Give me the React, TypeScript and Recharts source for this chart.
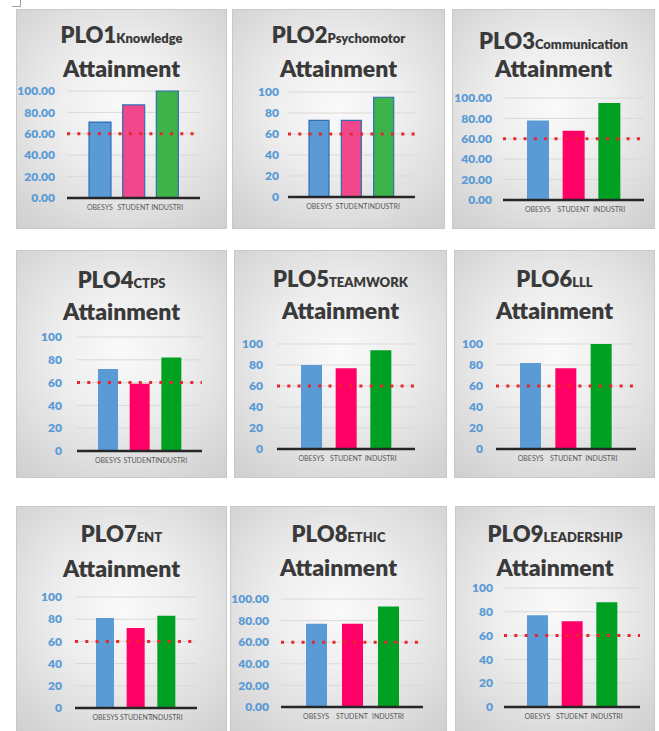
import { BarChart, Bar, XAxis, YAxis, CartesianGrid, ReferenceLine, Cell } from "recharts";

// categories and PLO labels
const categories = ["OBESYS", "STUDENT", "INDUSTRI"];
const ploCodes = ["PLO1", "PLO2", "PLO3", "PLO4", "PLO5", "PLO6", "PLO7", "PLO8", "PLO9"];
const ploDomains = ["Knowledge", "Psychomotor", "Communication", "CTPS", "TEAMWORK", "LLL", "ENT", "ETHIC", "LEADERSHIP"];

// attainment per PLO, one array per respondent group
const obesysScores = [71, 73, 78, 72, 80, 82, 81, 77, 77];
const studentScores = [87, 73, 68, 59, 77, 77, 72, 77, 72];
const industryScores = [100, 95, 95, 82, 94, 100, 83, 93, 88];

const yTicks = [0, 20, 40, 60, 80, 100];
const targetScore = 60;
const tickDecimals = [2, 0, 2, 0, 0, 0, 0, 2, 0];

// page layout of each panel: box [x, y, w, h], plot [left, top, right, bottom], title baselines
type Panel = { box: number[]; plot: number[]; head: number[]; bar: number; gap: number; soft?: boolean };

const panels: Panel[] = [
    { box: [16, 9, 211, 220], plot: [67, 91, 200, 198], head: [43, 77], bar: 22, gap: 12, soft: true },
    { box: [232, 9, 213, 220], plot: [288, 92, 415, 197], head: [43, 77], bar: 20, gap: 9, soft: true },
    { box: [452, 9, 203, 220], plot: [503, 98, 644, 200], head: [49, 77], bar: 22, gap: 11 },
    { box: [16, 250, 211, 228], plot: [77, 337, 202, 451], head: [288, 320], bar: 20, gap: 15 },
    { box: [234, 250, 213, 228], plot: [277, 344, 415, 449], head: [287, 319], bar: 21, gap: 14 },
    { box: [454, 250, 201, 228], plot: [496, 344, 636, 449], head: [287, 319], bar: 21, gap: 13 },
    { box: [16, 506, 211, 230], plot: [75, 597, 197, 708], head: [542, 577], bar: 18, gap: 13 },
    { box: [230, 506, 217, 230], plot: [281, 599, 423, 707], head: [542, 576], bar: 21, gap: 12 },
    { box: [455, 506, 200, 230], plot: [504, 588, 640, 707], head: [542, 576], bar: 21, gap: 11 },
];

const FONT = "Lato, 'Open Sans', sans-serif";

function PloChart({ i }: { i: number }) {
    const p = panels[i];
    const [bx, by, bw, bh] = p.box;
    const [pl, pt, pr, pb] = p.plot;
    const scores = [obesysScores[i], studentScores[i], industryScores[i]];
    const data = categories.map((name, k) => ({ name, value: scores[k] }));
    const colors = p.soft ? ["#5b9bd5", "#f0488b", "#3db34a"] : ["#5b9bd5", "#ff0066", "#00a023"];
    const pad = Math.round((pr - pl) * 0.12);
    const xAxisH = 20;

    return (
        <div
            style={{
                position: "absolute",
                left: bx,
                top: by,
                width: bw,
                height: bh,
                boxSizing: "border-box",
                border: "1px solid #c8c8c8",
                background: "radial-gradient(ellipse 75% 70% at 50% 45%, #fafafa 0%, #eeeeee 40%, #d0d0d0 100%)",
            }}
        >
            <div style={{ position: "absolute", left: -1, top: -1 }}>
                <BarChart
                    width={bw}
                    height={bh}
                    data={data}
                    margin={{ top: pt - by, right: bx + bw - pr, bottom: by + bh - pb - xAxisH, left: 0 }}
                >
                    <CartesianGrid vertical={false} stroke="#d9d9d9" />
                    <XAxis
                        dataKey="name"
                        interval={0}
                        height={xAxisH}
                        padding={{ left: pad, right: pad }}
                        tickLine={false}
                        tickSize={0}
                        tickMargin={7}
                        axisLine={{ stroke: "#262626", strokeWidth: 2.5 }}
                        tick={{ fill: "#595959", fontSize: 7, fontFamily: FONT }}
                    />
                    <YAxis
                        width={pl - bx}
                        domain={[0, 100]}
                        ticks={yTicks}
                        interval={0}
                        tickFormatter={(v: number) => v.toFixed(tickDecimals[i])}
                        axisLine={false}
                        tickLine={false}
                        tickSize={0}
                        tickMargin={p.gap}
                        tick={{ fill: "#5b9bd5", fontSize: 12, fontWeight: 800, fontFamily: FONT }}
                    />
                    <Bar
                        dataKey="value"
                        barSize={p.bar}
                        isAnimationActive={false}
                        stroke={p.soft ? "#2f6eb5" : "none"}
                        strokeWidth={p.soft ? 1.2 : 0}
                    >
                        {data.map((d, k) => (
                            <Cell key={d.name} fill={colors[k]} />
                        ))}
                    </Bar>
                    <ReferenceLine y={targetScore} stroke="#e8262b" strokeWidth={3} strokeDasharray="3 7.3" />
                </BarChart>
            </div>
            <svg width={bw} height={bh} style={{ position: "absolute", left: -1, top: -1, pointerEvents: "none" }}>
                <text x={bw / 2} y={p.head[0] - by} textAnchor="middle" fill="#3a3a3a" fontFamily={FONT} fontWeight={800}>
                    <tspan fontSize={22}>{ploCodes[i]}</tspan>
                    <tspan fontSize={13}>{ploDomains[i]}</tspan>
                </text>
                <text x={bw / 2} y={p.head[1] - by} textAnchor="middle" fill="#3a3a3a" fontFamily={FONT} fontWeight={800} fontSize={23}>
                    Attainment
                </text>
            </svg>
        </div>
    );
}

export default function App() {
    return (
        <div style={{ position: "absolute", left: 0, top: 0, width: 659, height: 731, overflow: "hidden", background: "#fff" }}>
            {/* anchor mark in the corner */}
            <div
                style={{
                    position: "absolute",
                    left: 12,
                    top: 0,
                    width: 8,
                    height: 6,
                    borderRight: "1px solid #a0a0a0",
                    borderBottom: "1px solid #a0a0a0",
                }}
            />
            {panels.map((_, i) => (
                <PloChart key={ploCodes[i]} i={i} />
            ))}
        </div>
    );
}
